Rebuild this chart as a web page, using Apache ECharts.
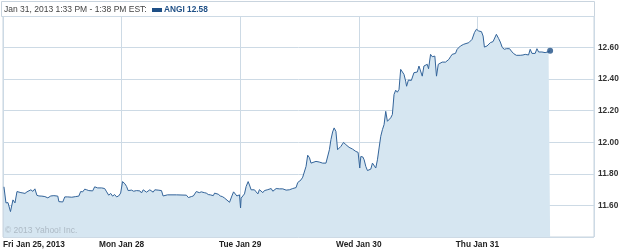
<!DOCTYPE html>
<html>
<head>
<meta charset="utf-8">
<script src="https://cdn.jsdelivr.net/npm/echarts@6/dist/echarts.min.js"></script>
<style>
html,body{margin:0;padding:0;background:#fff;}
#c{width:625px;height:250px;}
</style>
</head>
<body>
<div id="c"></div>
<script>
// time in trading days since Fri Jan 25 open (1 = one session)
var times = [
0.008,0.025,0.042,0.063,0.084,0.101,0.118,0.134,0.151,0.168,0.185,0.202,0.218,0.235,0.252,0.269,0.286,0.303,0.328,0.353,
0.378,0.403,0.429,0.445,0.462,0.471,0.487,0.504,0.521,0.546,0.580,0.613,0.639,0.655,0.672,0.689,0.706,0.723,0.739,0.756,
0.773,0.798,0.832,0.857,0.874,0.891,0.908,0.924,0.941,0.958,0.975,0.992,
1.008,1.028,1.042,1.055,1.070,1.084,1.101,1.126,1.154,1.168,1.182,1.196,1.210,1.224,1.238,1.252,1.266,1.280,1.294,1.308,
1.322,1.336,1.350,1.364,1.387,1.462,1.546,1.563,1.574,1.588,1.605,1.616,1.630,1.641,1.655,1.672,1.697,1.714,1.731,1.748,
1.762,1.773,1.784,1.798,1.815,1.832,1.849,1.866,1.882,1.910,1.930,1.944,1.958,1.972,1.983,1.994,
2.003,2.008,2.022,2.036,2.050,2.067,2.078,2.092,2.107,2.120,2.134,2.149,2.162,2.176,2.191,2.204,2.218,2.233,2.246,2.261,
2.275,2.288,2.303,2.317,2.330,2.345,2.359,2.372,2.387,2.401,2.414,2.429,2.443,2.456,2.471,2.485,2.498,2.513,2.527,2.540,
2.555,2.569,2.584,2.597,2.611,2.639,2.666,2.695,2.708,2.723,2.737,2.752,2.765,2.779,2.792,2.807,2.821,2.849,2.871,2.891,
2.918,2.947,2.975,2.994,
3.008,3.017,3.034,3.045,3.059,3.073,3.087,3.101,3.115,3.129,3.143,3.157,3.171,3.185,3.199,3.213,3.227,3.241,3.255,3.269,
3.283,3.297,3.311,3.325,3.339,3.353,3.367,3.381,3.395,3.403,3.418,3.429,3.443,3.454,3.465,3.479,3.493,3.507,3.521,3.535,
3.549,3.563,3.577,3.588,3.605,3.619,3.633,3.641,3.655,3.670,3.681,3.703,3.731,3.745,3.759,3.773,3.787,3.801,3.815,3.829,
3.857,3.885,3.899,3.927,3.941,3.955,3.975,3.992,
4.011,4.034,4.048,4.059,4.081,4.095,4.109,4.132,4.145,4.160,4.179,4.193,4.210,4.227,4.244,4.255,4.271,4.286,4.305,4.328,
4.361,4.384,4.403,4.431,4.445,4.460,4.473,4.487,4.502,4.516,4.529,4.544,4.557,4.571,4.586,4.600,4.613
];
var prices = [
11.718,11.616,11.618,11.561,11.635,11.616,11.688,11.686,11.681,11.679,11.676,11.686,11.679,11.699,11.689,11.705,11.664,11.660,11.659,11.656,
11.648,11.660,11.662,11.660,11.659,11.624,11.629,11.622,11.654,11.654,11.652,11.656,11.659,11.688,11.686,11.703,11.699,11.694,11.702,11.692,
11.718,11.711,11.711,11.707,11.686,11.665,11.676,11.659,11.669,11.654,11.660,11.678,
11.751,11.737,11.720,11.694,11.695,11.697,11.690,11.694,11.692,11.679,11.699,11.700,11.684,11.694,11.699,11.689,11.684,11.699,11.692,11.697,
11.699,11.694,11.660,11.662,11.667,11.667,11.665,11.650,11.646,11.656,11.660,11.665,11.688,11.692,11.681,11.686,11.681,11.678,11.669,11.667,
11.675,11.662,11.678,11.678,11.671,11.660,11.656,11.648,11.641,11.620,11.660,11.686,11.679,11.660,11.656,11.667,
11.584,11.646,11.660,11.673,11.720,11.751,11.730,11.699,11.692,11.699,11.686,11.673,11.700,11.699,11.681,11.694,11.705,11.700,11.697,11.707,
11.690,11.700,11.707,11.716,11.705,11.703,11.705,11.700,11.697,11.688,11.699,11.705,11.707,11.709,11.713,11.745,11.748,11.762,11.779,11.783,
11.847,11.918,11.902,11.868,11.875,11.879,11.875,11.868,11.858,11.868,11.879,11.953,12.017,12.065,12.091,12.069,11.953,11.974,11.999,11.985,
11.968,11.957,11.942,11.936,
11.837,11.910,11.907,11.889,11.847,11.821,11.830,11.830,11.868,11.868,11.837,11.889,11.964,12.038,12.080,12.112,12.196,12.133,12.144,12.155,
12.176,12.303,12.330,12.317,12.335,12.462,12.451,12.430,12.387,12.355,12.394,12.398,12.392,12.403,12.441,12.451,12.445,12.483,12.473,12.419,
12.483,12.473,12.494,12.466,12.557,12.542,12.536,12.546,12.419,12.494,12.500,12.508,12.508,12.514,12.525,12.542,12.557,12.568,12.563,12.589,
12.610,12.621,12.614,12.631,12.642,12.652,12.695,12.716,
12.705,12.701,12.673,12.603,12.610,12.621,12.631,12.638,12.648,12.684,12.657,12.635,12.600,12.589,12.593,12.584,12.593,12.578,12.562,12.551,
12.551,12.553,12.557,12.553,12.589,12.563,12.568,12.563,12.593,12.572,12.568,12.572,12.578,12.568,12.578,12.574,12.580
];
var dayLabels = ['Fri Jan 25, 2013', 'Mon Jan 28', 'Tue Jan 29', 'Wed Jan 30', 'Thu Jan 31'];
var yTicks = [11.40, 11.60, 11.80, 12.00, 12.20, 12.40, 12.60, 12.80];
var headerText = 'Jan 31, 2013 1:33 PM - 1:38 PM EST:';
var symbolName = 'ANGI';
var lastPrice = '12.58';
var copyright = '\u00A9 2013 Yahoo! Inc.';

var seriesData = times.map(function (t, i) { return [t, prices[i]]; });
var last = seriesData[seriesData.length - 1];

var chart = echarts.init(document.getElementById('c'), null, {renderer: 'canvas'});
var gridColor = '#cddae5';
var font = 'Liberation Sans, Arial, sans-serif';

chart.setOption({
  animation: false,
  backgroundColor: '#ffffff',
  grid: {
    left: 1, top: 16, width: 593, height: 221,
    show: true, borderColor: '#c9d4de', borderWidth: 1, backgroundColor: 'transparent'
  },
  xAxis: {
    type: 'value', min: 0, max: 4.983, interval: 1,
    axisLine: {show: false}, axisTick: {show: false},
    splitLine: {show: true, lineStyle: {color: gridColor, width: 1}},
    axisLabel: {
      show: true, margin: 4, color: '#222', fontWeight: 'bold', fontSize: 8.3, fontFamily: font,
      showMaxLabel: false, alignMinLabel: 'left',
      formatter: function (v) {
        var i = Math.round(v);
        return Math.abs(v - i) < 1e-6 && dayLabels[i] ? dayLabels[i] : '';
      }
    }
  },
  yAxis: {
    type: 'value', position: 'right', min: yTicks[0], max: yTicks[yTicks.length - 1], interval: 0.2,
    axisLine: {show: false}, axisTick: {show: false},
    splitLine: {show: true, lineStyle: {color: gridColor, width: 1}},
    axisLabel: {
      show: true, margin: 4, color: '#333', fontWeight: 'bold', fontSize: 8.3, fontFamily: font,
      showMinLabel: false, showMaxLabel: false,
      formatter: function (v) { return v.toFixed(2); }
    }
  },
  series: [
    {
      type: 'line', data: seriesData, showSymbol: false, symbol: 'none',
      lineStyle: {color: '#33649a', width: 1},
      areaStyle: {color: '#d6e6f1', opacity: 1, origin: 'start'},
      z: 2
    },
    {
      type: 'scatter', data: [last], symbolSize: 6,
      itemStyle: {color: '#1e4f86'}, z: 4
    }
  ],
  graphic: [
    {type: 'rect', shape: {x: 1.5, y: 1.5, width: 593, height: 15}, style: {fill: '#fff', stroke: '#c9d4de', lineWidth: 1}, z: 0},
    {type: 'text', x: 4, y: 10, style: {text: headerText, fill: '#444', font: '8.5px ' + font, textVerticalAlign: 'middle'}, z: 10},
    {type: 'rect', shape: {x: 152, y: 8, width: 10, height: 4}, style: {fill: '#1e4f86'}, z: 10},
    {type: 'text', x: 164, y: 10, style: {text: symbolName + ' ' + lastPrice, fill: '#1e4f86', font: 'bold 8.3px ' + font, textVerticalAlign: 'middle'}, z: 10},
    {type: 'text', x: 5, y: 231, style: {text: copyright, fill: '#adbac5', font: '8.5px ' + font, textVerticalAlign: 'middle'}, z: 10}
  ]
});
</script>
</body>
</html>
